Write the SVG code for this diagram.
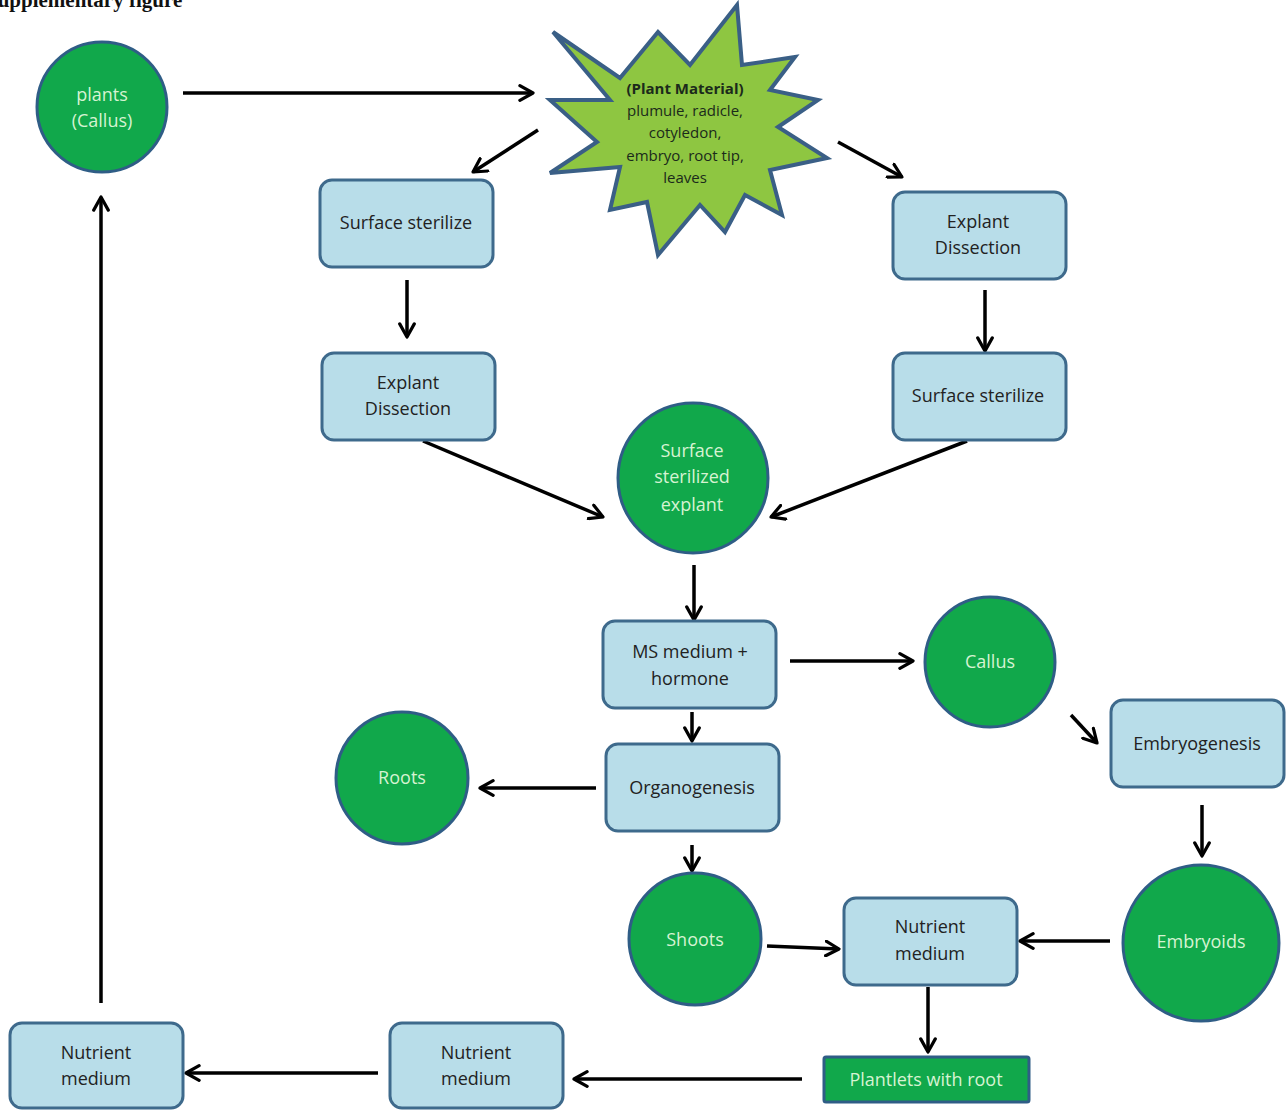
<svg xmlns="http://www.w3.org/2000/svg" width="1288" height="1110" viewBox="0 0 1288 1110">
<defs>
<style>
.rect{fill:#b8dde9;stroke:#3e6a8c;stroke-width:3}
.circ{fill:#11a84b;stroke:#2f5d86;stroke-width:3}
.rt{font-family:"Open Sans","Liberation Sans",sans-serif;font-size:18px;fill:#222;text-anchor:middle}
.ct{font-family:"Open Sans","Liberation Sans",sans-serif;font-size:18px;fill:#d6f3d2;text-anchor:middle}
.st{font-family:"Open Sans","Liberation Sans",sans-serif;font-size:15px;fill:#1b2a1b;text-anchor:middle}
.ar{stroke:#000;stroke-width:3.5;fill:none;marker-end:url(#ah)}
</style>
<marker id="ah" viewBox="0 0 12 12" refX="10" refY="6" markerWidth="5" markerHeight="5" orient="auto" markerUnits="strokeWidth">
<path d="M1,1 L10,6 L1,11" fill="none" stroke="#000" stroke-width="2.2" stroke-linecap="round" stroke-linejoin="round"/>
</marker>
</defs>
<rect width="1288" height="1110" fill="#fff"/>
<text x="-14" y="7" font-family="Liberation Serif,serif" font-weight="bold" font-size="21" fill="#111">Supplementary figure</text>

<g id="connectors">
<line class="ar" x1="183" y1="93" x2="533" y2="93"/>
<line class="ar" x1="538" y1="130" x2="473" y2="172"/>
<line class="ar" x1="838" y1="142" x2="902" y2="177"/>
<line class="ar" x1="407" y1="280" x2="407" y2="337"/>
<line class="ar" x1="985" y1="290" x2="985" y2="351"/>
<line class="ar" x1="423" y1="441" x2="603" y2="517"/>
<line class="ar" x1="967" y1="441" x2="771" y2="517"/>
<line class="ar" x1="694" y1="565" x2="694" y2="620"/>
<line class="ar" x1="790" y1="661" x2="913" y2="661"/>
<line class="ar" x1="692" y1="712" x2="692" y2="741"/>
<line class="ar" x1="1071" y1="715" x2="1097" y2="743"/>
<line class="ar" x1="596" y1="788" x2="480" y2="788"/>
<line class="ar" x1="1202" y1="805" x2="1202" y2="856"/>
<line class="ar" x1="692" y1="845" x2="692" y2="871"/>
<line class="ar" x1="767" y1="946" x2="839" y2="949"/>
<line class="ar" x1="1110" y1="941" x2="1020" y2="941"/>
<line class="ar" x1="928" y1="987" x2="928" y2="1052"/>
<line class="ar" x1="802" y1="1079" x2="574" y2="1079"/>
<line class="ar" x1="378" y1="1073" x2="186" y2="1073"/>
<line class="ar" x1="101" y1="1003" x2="101" y2="197"/>
</g>

<g id="plant-material">
<polygon points="553,32 620,78 658,32 690,65 737,5 742,65 795,57 770,90 818,100 778,127 827,158 770,170 782,215 745,195 725,232 700,205 658,255 647,202 610,210 620,167 550,173 597,142 550,100 610,100" fill="#8ec641" stroke="#3a5f86" stroke-width="4" stroke-linejoin="miter"/>
<text class="st" x="685" y="94" font-weight="bold">(Plant Material)</text>
<text class="st" x="685" y="116">plumule, radicle,</text>
<text class="st" x="685" y="138">cotyledon,</text>
<text class="st" x="685" y="161">embryo, root tip,</text>
<text class="st" x="685" y="183">leaves</text>
</g>

<g id="plants-callus">
<circle class="circ" cx="102" cy="107" r="65"/>
<text class="ct" x="102" y="101">plants</text>
<text class="ct" x="102" y="127">(Callus)</text>
</g>

<g id="surface-sterilize-left">
<rect class="rect" x="320" y="180" width="173" height="87" rx="12"/>
<text class="rt" x="406" y="229">Surface sterilize</text>
</g>

<g id="explant-dissection-left">
<rect class="rect" x="322" y="353" width="173" height="87" rx="12"/>
<text class="rt" x="408" y="389">Explant</text>
<text class="rt" x="408" y="415">Dissection</text>
</g>

<g id="explant-dissection-right">
<rect class="rect" x="893" y="192" width="173" height="87" rx="12"/>
<text class="rt" x="978" y="228">Explant</text>
<text class="rt" x="978" y="254">Dissection</text>
</g>

<g id="surface-sterilize-right">
<rect class="rect" x="893" y="353" width="173" height="87" rx="12"/>
<text class="rt" x="978" y="402">Surface sterilize</text>
</g>

<g id="surface-sterilized-explant">
<circle class="circ" cx="693" cy="478" r="75"/>
<text class="ct" x="692" y="457">Surface</text>
<text class="ct" x="692" y="483">sterilized</text>
<text class="ct" x="692" y="511">explant</text>
</g>

<g id="ms-medium">
<rect class="rect" x="603" y="621" width="173" height="87" rx="12"/>
<text class="rt" x="690" y="658">MS medium +</text>
<text class="rt" x="690" y="685">hormone</text>
</g>

<g id="callus">
<circle class="circ" cx="990" cy="662" r="65"/>
<text class="ct" x="990" y="668">Callus</text>
</g>

<g id="embryogenesis">
<rect class="rect" x="1111" y="700" width="173" height="87" rx="12"/>
<text class="rt" x="1197" y="750">Embryogenesis</text>
</g>

<g id="roots">
<circle class="circ" cx="402" cy="778" r="66"/>
<text class="ct" x="402" y="784">Roots</text>
</g>

<g id="organogenesis">
<rect class="rect" x="606" y="744" width="173" height="87" rx="12"/>
<text class="rt" x="692" y="794">Organogenesis</text>
</g>

<g id="shoots">
<circle class="circ" cx="695" cy="939" r="66"/>
<text class="ct" x="695" y="946">Shoots</text>
</g>

<g id="nutrient-medium-center">
<rect class="rect" x="844" y="898" width="173" height="87" rx="12"/>
<text class="rt" x="930" y="933">Nutrient</text>
<text class="rt" x="930" y="960">medium</text>
</g>

<g id="embryoids">
<circle class="circ" cx="1201" cy="943" r="78"/>
<text class="ct" x="1201" y="948" font-size="15">Embryoids</text>
</g>

<g id="plantlets">
<rect x="824" y="1057" width="205" height="45" rx="2" fill="#11a84b" stroke="#2f5d86" stroke-width="3"/>
<text class="ct" x="926" y="1086" font-size="16">Plantlets with root</text>
</g>

<g id="nutrient-medium-mid">
<rect class="rect" x="390" y="1023" width="173" height="85" rx="12"/>
<text class="rt" x="476" y="1059">Nutrient</text>
<text class="rt" x="476" y="1085">medium</text>
</g>

<g id="nutrient-medium-left">
<rect class="rect" x="10" y="1023" width="173" height="85" rx="12"/>
<text class="rt" x="96" y="1059">Nutrient</text>
<text class="rt" x="96" y="1085">medium</text>
</g>
</svg>
